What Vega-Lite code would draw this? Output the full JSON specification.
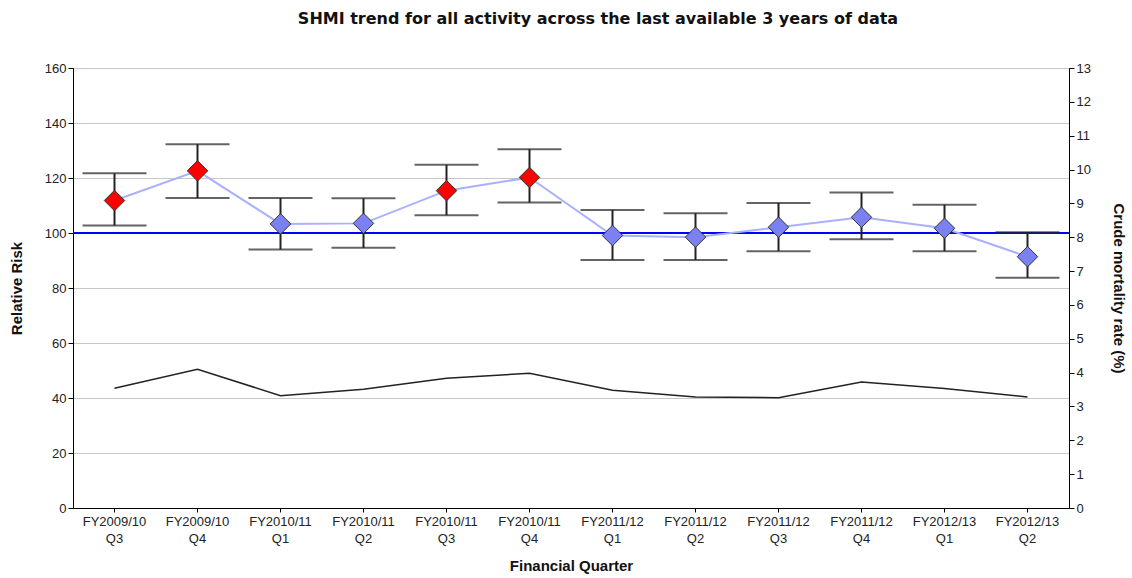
{
  "$schema": "https://vega.github.io/schema/vega-lite/v6.json",
  "width": 996,
  "height": 440,
  "autosize": {"type": "none"},
  "padding": {"left": 73, "top": 68, "right": 63, "bottom": 70},
  "background": "white",
  "title": {
    "text": "SHMI trend for all activity across the last available 3 years of data",
    "font": "DejaVu Sans",
    "fontSize": 16,
    "fontWeight": "bold",
    "color": "#111",
    "anchor": "middle",
    "dx": 27,
    "offset": 35
  },
  "config": {
    "view": {"stroke": "black", "strokeWidth": 1},
    "axis": {
      "domainColor": "black",
      "tickColor": "black",
      "labelColor": "#222",
      "labelFont": "Liberation Sans",
      "labelFontSize": 13,
      "titleFont": "Liberation Sans",
      "titleFontWeight": "bold",
      "titleFontSize": 15,
      "titleColor": "#111"
    }
  },
  "data": {
    "values": [
      {"quarter": "FY2009/10 Q3", "rr": 111.8, "lower": 102.7, "upper": 121.7, "crude": 3.54, "sig": "high"},
      {"quarter": "FY2009/10 Q4", "rr": 122.6, "lower": 112.7, "upper": 132.3, "crude": 4.10, "sig": "high"},
      {"quarter": "FY2010/11 Q1", "rr": 103.3, "lower": 94.0, "upper": 112.7, "crude": 3.32, "sig": "normal"},
      {"quarter": "FY2010/11 Q2", "rr": 103.5, "lower": 94.6, "upper": 112.6, "crude": 3.51, "sig": "normal"},
      {"quarter": "FY2010/11 Q3", "rr": 115.4, "lower": 106.5, "upper": 124.8, "crude": 3.83, "sig": "high"},
      {"quarter": "FY2010/11 Q4", "rr": 120.2, "lower": 111.1, "upper": 130.5, "crude": 3.98, "sig": "high"},
      {"quarter": "FY2011/12 Q1", "rr": 99.1, "lower": 90.2, "upper": 108.4, "crude": 3.48, "sig": "normal"},
      {"quarter": "FY2011/12 Q2", "rr": 98.5, "lower": 90.2, "upper": 107.2, "crude": 3.28, "sig": "normal"},
      {"quarter": "FY2011/12 Q3", "rr": 102.1, "lower": 93.4, "upper": 110.9, "crude": 3.26, "sig": "normal"},
      {"quarter": "FY2011/12 Q4", "rr": 105.7, "lower": 97.7, "upper": 114.7, "crude": 3.72, "sig": "normal"},
      {"quarter": "FY2012/13 Q1", "rr": 101.7, "lower": 93.4, "upper": 110.3, "crude": 3.53, "sig": "normal"},
      {"quarter": "FY2012/13 Q2", "rr": 91.4, "lower": 83.7, "upper": 100.3, "crude": 3.28, "sig": "normal"}
    ]
  },
  "encoding": {
    "x": {
      "field": "quarter",
      "type": "nominal",
      "sort": null,
      "scale": {"paddingInner": 0, "paddingOuter": 0},
      "axis": {
        "title": "Financial Quarter",
        "labelAngle": 0,
        "labelExpr": "split(datum.value, ' ')",
        "labelLineHeight": 17,
        "labelPadding": 3,
        "tickSize": 4,
        "titlePadding": 13
      }
    }
  },
  "layer": [
    {
      "layer": [
        {
          "mark": {"type": "rule", "color": "#0000ff", "strokeWidth": 2},
          "encoding": {
            "x": null,
            "y": {
              "datum": 100,
              "type": "quantitative",
              "scale": {"domain": [0, 160]},
              "axis": {
                "title": "Relative Risk",
                "values": [0, 20, 40, 60, 80, 100, 120, 140, 160],
                "grid": true,
                "gridColor": "#c8c8c8",
                "tickSize": 5,
                "titlePadding": 20
              }
            }
          }
        },
        {
          "mark": {"type": "rule", "color": "#222", "strokeWidth": 2},
          "encoding": {
            "y": {"field": "lower", "type": "quantitative", "title": "Relative Risk"},
            "y2": {"field": "upper"}
          }
        },
        {
          "mark": {"type": "tick", "color": "#222", "size": 64, "thickness": 2, "orient": "horizontal"},
          "encoding": {
            "y": {"field": "lower", "type": "quantitative", "title": "Relative Risk"}
          }
        },
        {
          "mark": {"type": "tick", "color": "#222", "size": 64, "thickness": 2, "orient": "horizontal"},
          "encoding": {
            "y": {"field": "upper", "type": "quantitative", "title": "Relative Risk"}
          }
        },
        {
          "mark": {"type": "line", "color": "#a9b0ff", "strokeWidth": 2},
          "encoding": {
            "y": {"field": "rr", "type": "quantitative", "title": "Relative Risk"}
          }
        },
        {
          "mark": {"type": "point", "shape": "diamond", "size": 420, "filled": true, "stroke": "#333", "strokeWidth": 1, "opacity": 1},
          "encoding": {
            "y": {"field": "rr", "type": "quantitative", "title": "Relative Risk"},
            "color": {
              "field": "sig",
              "type": "nominal",
              "scale": {"domain": ["high", "normal"], "range": ["#ff0000", "#7b80f2"]},
              "legend": null
            }
          }
        }
      ]
    },
    {
      "mark": {"type": "line", "color": "#222", "strokeWidth": 1.5},
      "encoding": {
        "y": {
          "field": "crude",
          "type": "quantitative",
          "scale": {"domain": [0, 13]},
          "axis": {
            "orient": "right",
            "title": "Crude mortality rate (%)",
            "values": [0, 1, 2, 3, 4, 5, 6, 7, 8, 9, 10, 11, 12, 13],
            "grid": false,
            "tickSize": 5,
            "titlePadding": 20
          }
        }
      }
    }
  ],
  "resolve": {"scale": {"y": "independent"}}
}
